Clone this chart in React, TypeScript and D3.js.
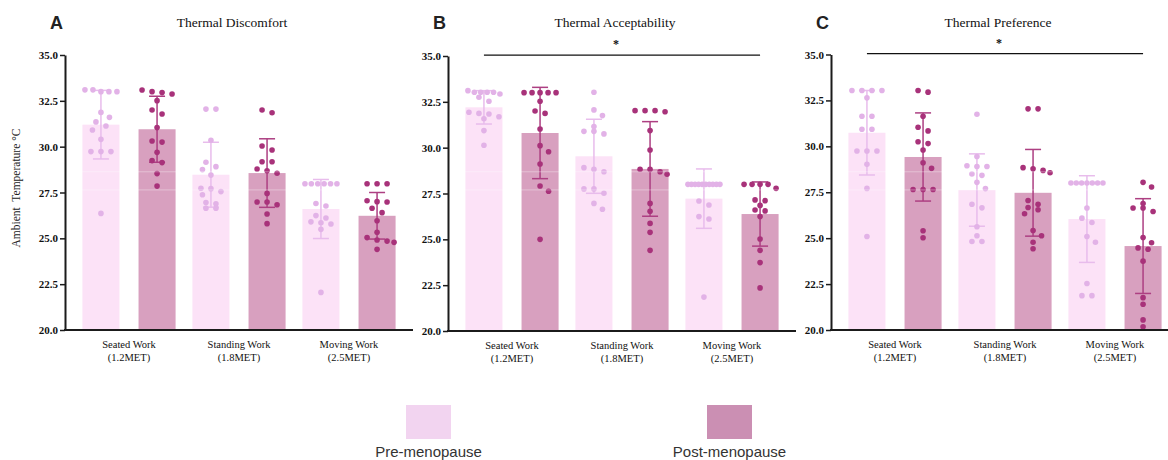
import React, { useEffect, useRef } from 'react';
import * as d3 from 'd3';

const categories = ['Seated Work', 'Standing Work', 'Moving Work'];
const metLabels = ['(1.2MET)', '(1.8MET)', '(2.5MET)'];
const groups = ['pre', 'post'];
const legendLabels = ['Pre-menopause', 'Post-menopause'];
const yTicks = [20, 22.5, 25, 27.5, 30, 32.5, 35];
const panelTitles = ['Thermal Discomfort', 'Thermal Acceptability', 'Thermal Preference'];
const panelLetters = ['A', 'B', 'C'];
const significant = [false, true, true];

// individual points, one array per work type
const discomfortPre = [
  [33.0, 33.1, 33.1, 33.0, 33.0, 31.87, 31.6, 31.35, 31.13, 30.91, 30.4, 29.73, 29.73, 29.73, 26.36],
  [32.05, 32.05, 30.35, 29.15, 28.91, 28.75, 28.45, 27.71, 27.73, 27.55, 27.38, 26.95, 26.89, 26.64, 26.64],
  [27.98, 27.98, 27.98, 27.98, 27.98, 27.98, 26.9, 26.76, 26.24, 26.11, 25.9, 25.85, 25.78, 25.49, 22.05],
];
const discomfortPost = [
  [33.09, 33.0, 32.95, 32.87, 32.51, 32.0, 31.78, 31.04, 30.31, 30.25, 29.69, 29.24, 29.13, 28.53, 27.85],
  [32.0, 31.85, 30.04, 29.82, 29.18, 29.18, 28.78, 28.69, 28.55, 27.45, 26.98, 26.98, 26.83, 26.33, 25.8],
  [27.98, 27.98, 27.98, 27.05, 27.0, 26.98, 26.64, 26.4, 25.96, 25.33, 25.04, 24.91, 24.85, 24.78, 24.4],
];
const discomfortPreMean = [31.2, 28.47, 26.6];
const discomfortPreSd = [1.87, 1.77, 1.61];
const discomfortPostMean = [30.95, 28.56, 26.23];
const discomfortPostSd = [1.8, 1.87, 1.27];

const acceptPre = [
  [33.02, 33.02, 33.02, 33.11, 32.93, 33.02, 32.75, 32.53, 31.93, 31.87, 31.84, 31.69, 31.58, 30.93, 30.13],
  [33.02, 32.06, 31.75, 31.15, 30.89, 30.89, 30.75, 28.91, 28.82, 28.69, 27.75, 27.75, 27.51, 26.96, 26.64],
  [28.0, 28.0, 28.0, 28.0, 28.0, 28.0, 28.0, 28.0, 28.0, 28.0, 27.09, 26.87, 26.24, 26.11, 21.85],
];
const acceptPost = [
  [33.0, 33.0, 33.0, 33.0, 33.0, 32.53, 32.0, 31.87, 31.02, 30.11, 29.78, 29.11, 27.91, 27.62, 25.0],
  [32.02, 31.96, 32.02, 32.02, 30.93, 29.87, 28.82, 28.69, 28.82, 28.55, 26.96, 26.53, 25.87, 25.38, 24.4],
  [28.0, 28.0, 28.0, 28.0, 27.78, 27.15, 27.11, 26.85, 26.6, 26.55, 26.24, 25.02, 24.4, 23.73, 22.35],
];
const acceptPreMean = [32.2, 29.53, 27.22];
const acceptPreSd = [0.91, 2.02, 1.62];
const acceptPostMean = [30.8, 28.84, 26.38];
const acceptPostSd = [2.49, 2.58, 1.75];

const preferPre = [
  [33.04, 33.04, 33.04, 33.04, 32.64, 31.64, 31.64, 30.93, 30.93, 29.75, 29.75, 29.75, 29.02, 27.71, 25.09],
  [31.75, 29.45, 28.94, 28.9, 28.9, 28.49, 28.42, 28.04, 27.7, 26.85, 26.65, 25.62, 25.13, 24.82, 24.82],
  [28.0, 28.0, 28.0, 28.0, 28.0, 28.0, 28.0, 26.64, 26.09, 25.85, 25.09, 24.78, 22.53, 21.87, 21.87],
];
const preferPost = [
  [33.04, 32.95, 31.64, 31.04, 30.84, 30.25, 30.15, 29.8, 29.11, 28.8, 27.65, 27.65, 27.65, 25.4, 25.02],
  [32.04, 32.04, 28.84, 28.78, 28.69, 28.56, 27.05, 26.85, 26.67, 26.55, 26.33, 25.42, 25.13, 24.78, 24.42],
  [28.04, 27.78, 26.89, 26.64, 26.64, 26.45, 25.04, 24.75, 24.47, 24.4, 23.75, 21.76, 21.4, 20.55, 20.18],
];
const preferPreMean = [30.74, 27.62, 26.04];
const preferPreSd = [2.3, 1.97, 2.36];
const preferPostMean = [29.42, 27.47, 24.57];
const preferPostSd = [2.4, 2.36, 2.58];

const panels = [
  { pre: discomfortPre, post: discomfortPost, preMean: discomfortPreMean, preSd: discomfortPreSd, postMean: discomfortPostMean, postSd: discomfortPostSd },
  { pre: acceptPre, post: acceptPost, preMean: acceptPreMean, preSd: acceptPreSd, postMean: acceptPostMean, postSd: acceptPostSd },
  { pre: preferPre, post: preferPost, preMean: preferPreMean, preSd: preferPreSd, postMean: preferPostMean, postSd: preferPostSd },
];

const panelX = [65, 448, 831];
const panelY = [[330, 55], [331, 56], [330, 54.5]];

const colors = {
  pre: { bar: '#fce2f7', dot: '#e2b2e7', err: '#e8bcec', legend: '#f2d4f0' },
  post: { bar: '#d8a0bf', dot: '#a8327a', err: '#ad3f82', legend: '#cb8fb3' },
};

const serif = '"Liberation Serif", "Times New Roman", serif';
const sans = '"Liberation Sans", Arial, sans-serif';
const R = 2.8;

type Pt = { v: number; py: number; dx: number };

// prism-like scatter: equal values side by side, single points dodge their neighbours
function swarm(values: number[], y: (v: number) => number) {
  const rowStep = 10, singleStep = 8.5, maxSpan = 32, rowTol = 4.5, minDist = 6.5;
  const pts: Pt[] = values.map((v) => ({ v, py: y(v), dx: 0 })).sort((a, b) => a.py - b.py);
  const rows: Pt[][] = [];
  pts.forEach((p) => {
    const last = rows[rows.length - 1];
    if (last && p.py - last[0].py <= rowTol) last.push(p);
    else rows.push([p]);
  });
  const placed: Pt[] = [];
  rows.forEach((row) => {
    const n = row.length;
    if (n === 1) {
      const p = row[0];
      for (const c of [0, singleStep, -singleStep, 2 * singleStep, -2 * singleStep]) {
        if (placed.every((q) => Math.hypot(q.dx - c, q.py - p.py) >= minDist)) {
          p.dx = c;
          break;
        }
      }
    } else {
      const s = Math.min(rowStep, maxSpan / (n - 1));
      row.forEach((p, i) => (p.dx = (i - (n - 1) / 2) * s));
    }
    placed.push(...row);
  });
  return pts;
}

function YAxis({ scale, x }: { scale: d3.ScaleLinear<number, number>; x: number }) {
  const ref = useRef<SVGGElement>(null);
  useEffect(() => {
    const g = d3.select(ref.current!);
    g.call(
      d3.axisLeft(scale).tickValues(yTicks).tickFormat(d3.format('.1f')).tickSize(5).tickPadding(2).tickSizeOuter(0)
    );
    g.attr('font-family', serif).attr('font-size', 11).attr('font-weight', 'bold');
    g.select('.domain').attr('stroke', '#1b1b1b').attr('stroke-width', 2);
    g.selectAll('.tick line').attr('stroke', '#1b1b1b').attr('stroke-width', 1.5);
    g.selectAll('.tick text').attr('fill', '#111');
  }, [scale]);
  return <g ref={ref} transform={`translate(${x},0)`} />;
}

function Panel({ idx }: { idx: number }) {
  const p = panels[idx];
  const x0 = panelX[idx];
  const y = d3.scaleLinear().domain([20, 35]).range(panelY[idx]);
  const yA = d3.scaleLinear().domain([20, 35]).range(panelY[0]);
  const xg = d3.scaleBand().domain(categories).range([x0 + 9, x0 + 339]).padding(0);
  const xs = d3.scaleBand().domain(groups).range([0, xg.bandwidth()]).paddingInner(0.34).paddingOuter(0.15);
  const bw = xs.bandwidth();
  const firstC = xg(categories[0])! + xs('pre')! + bw / 2;
  const lastC = xg(categories[2])! + xs('post')! + bw / 2;

  return (
    <g>
      <text x={x0 - 15} y={29} fontFamily={sans} fontWeight="bold" fontSize={18} fill="#222">
        {panelLetters[idx]}
      </text>
      <text x={xg(categories[1])! + xg.bandwidth() / 2 - 7} y={26.5} fontFamily={serif} fontSize={13.5} textAnchor="middle" fill="#111">
        {panelTitles[idx]}
      </text>
      {categories.map((c, ci) =>
        groups.map((gname) => {
          const key = gname as 'pre' | 'post';
          const mean = key === 'pre' ? p.preMean[ci] : p.postMean[ci];
          const sd = key === 'pre' ? p.preSd[ci] : p.postSd[ci];
          const vals = key === 'pre' ? p.pre[ci] : p.post[ci];
          const bx = xg(c)! + xs(gname)!;
          const cx = bx + bw / 2;
          const pts = swarm(vals, y);
          const col = colors[key];
          return (
            <g key={c + gname}>
              <rect x={bx} y={y(mean)} width={bw} height={y(20) - y(mean)} fill={col.bar} />
              <line x1={cx} x2={cx} y1={y(mean - sd)} y2={y(mean + sd)} stroke={col.err} strokeWidth={1.5} />
              <line x1={cx - 8} x2={cx + 8} y1={y(mean + sd)} y2={y(mean + sd)} stroke={col.err} strokeWidth={1.5} />
              <line x1={cx - 8} x2={cx + 8} y1={y(mean - sd)} y2={y(mean - sd)} stroke={col.err} strokeWidth={1.5} />
              {pts.map((d, i) => (
                <circle key={i} cx={cx + d.dx} cy={d.py} r={R} fill={col.dot} />
              ))}
            </g>
          );
        })
      )}
      {[28.63, 27.64].map((v) => (
        <line key={v} x1={x0 + 2} x2={x0 + 345} y1={yA(v)} y2={yA(v)} stroke="#fff" strokeOpacity={0.35} strokeWidth={1} />
      ))}
      <line x1={x0 - 1} x2={x0 + 348} y1={y(20)} y2={y(20)} stroke="#1b1b1b" strokeWidth={2} />
      <YAxis scale={y} x={x0} />
      {categories.map((c, ci) => (
        <text key={c} fontFamily={serif} fontSize={10.5} textAnchor="middle" fill="#111">
          <tspan x={xg(c)! + xg.bandwidth() / 2} y={y(20) + 17.5}>{c}</tspan>
          <tspan x={xg(c)! + xg.bandwidth() / 2} y={y(20) + 30.5}>{metLabels[ci]}</tspan>
        </text>
      ))}
      {significant[idx] && (
        <g>
          <line x1={firstC} x2={lastC} y1={y(35) - 0.8} y2={y(35) - 0.8} stroke="#111" strokeWidth={1.2} />
          <text x={(firstC + lastC) / 2 - 6} y={y(35) - 8} fontFamily={serif} fontSize={12} fontWeight="bold" textAnchor="middle" fill="#111">
            *
          </text>
        </g>
      )}
    </g>
  );
}

export default function App() {
  const legendX = d3.scalePoint().domain(groups).range([428.5, 729.5]);
  return (
    <svg width={1168} height={460} style={{ position: 'absolute', left: 0, top: 0, display: 'block', background: '#fff' }}>
      <rect width={1168} height={460} fill="#fff" />
      <text
        transform="translate(20,188) rotate(-90)"
        fontFamily={serif}
        fontSize={11.5}
        textAnchor="middle"
        fill="#222"
        style={{ whiteSpace: 'pre' }}
      >
        {'Ambient  Temperature °C'}
      </text>
      {panels.map((_, i) => (
        <Panel key={i} idx={i} />
      ))}
      {groups.map((g, i) => (
        <g key={g}>
          <rect x={legendX(g)! - 22.5} y={405} width={45} height={34} fill={colors[g as 'pre' | 'post'].legend} />
          <text x={legendX(g)!} y={457} fontFamily={sans} fontSize={15} textAnchor="middle" fill="#333">
            {legendLabels[i]}
          </text>
        </g>
      ))}
    </svg>
  );
}
